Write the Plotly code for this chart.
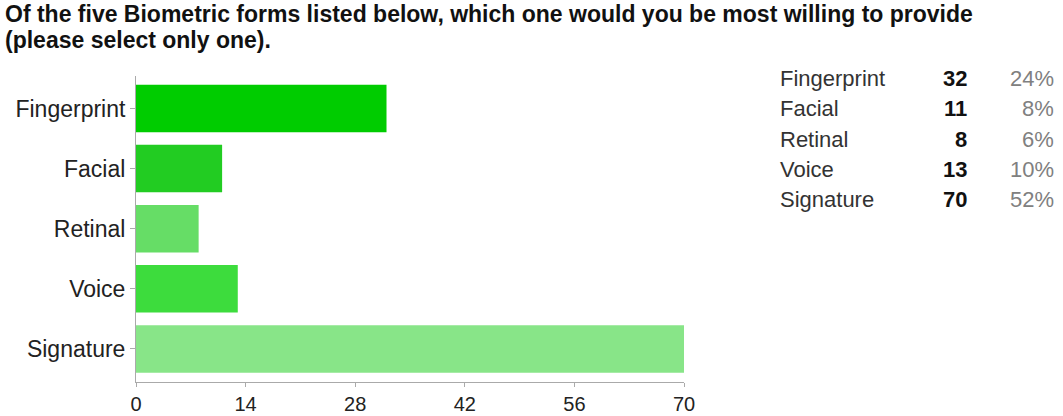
import plotly.graph_objects as go

categories = ["Fingerprint", "Facial", "Retinal", "Voice", "Signature"]
counts = [32, 11, 8, 13, 70]
percents = ["24%", "8%", "6%", "10%", "52%"]
x_ticks = [0, 14, 28, 42, 56, 70]
bar_colors = ["#00cc00", "#22cc22", "#66dd66", "#3ddc3d", "#88e588"]

title_lines = ["Of the five Biometric forms listed below, which one would you be most willing to provide",
               "(please select only one)."]

FONT = "Arial, Liberation Sans, sans-serif"
W, H = 1063, 416
# plot area in page pixels
left, right, top, bottom = 136, 684, 76, 382
ml, mr, mt, mb = left, W - right, top, H - bottom
pw = right - left
ph = bottom - top


def px_x(px):
    return (px - left) / pw


def px_y(py):
    return (bottom - py) / ph


fig = go.Figure()
fig.add_trace(go.Bar(
    y=list(range(len(categories))), x=counts, orientation="h",
    marker=dict(color=bar_colors, line=dict(width=0)),
    showlegend=False, hovertext=categories, hoverinfo="x+text",
))

ann = []
row_y = [78, 109, 139, 169, 199]
for i, c in enumerate(categories):
    yy = px_y(row_y[i])
    ann.append(dict(x=px_x(778), y=yy, xref="paper", yref="paper", text=c,
                    showarrow=False, xanchor="left", yanchor="middle",
                    font=dict(family=FONT, size=22, color="#333333")))
    ann.append(dict(x=px_x(969), y=yy, xref="paper", yref="paper", text="<b>%d</b>" % counts[i],
                    showarrow=False, xanchor="right", yanchor="middle",
                    font=dict(family=FONT, size=22, color="#111111")))
    ann.append(dict(x=px_x(1056), y=yy, xref="paper", yref="paper", text=percents[i],
                    showarrow=False, xanchor="right", yanchor="middle",
                    font=dict(family=FONT, size=22, color="#808080")))

for j, (line, cy) in enumerate(zip(title_lines, [14, 40])):
    ann.append(dict(x=px_x(3), y=px_y(cy), xref="paper", yref="paper", text="<b>" + line + "</b>",
                    showarrow=False, xanchor="left", yanchor="middle", align="left",
                    font=dict(family=FONT, size=23, color="#111111")))

fig.update_layout(
    width=W, height=H,
    margin=dict(l=ml, r=mr, t=mt, b=mb, pad=0),
    paper_bgcolor="white", plot_bgcolor="white",
    bargap=0.21,
    annotations=ann,
    xaxis=dict(range=[0, 70], tickvals=x_ticks, ticktext=[str(v) for v in x_ticks],
               showgrid=False, zeroline=False, showline=True, linecolor="#aaaaaa", linewidth=1,
               ticks="outside", ticklen=4, tickcolor="#aaaaaa", automargin=False,
               tickfont=dict(family=FONT, size=20, color="#222222")),
    yaxis=dict(range=[4.55, -0.54], tickvals=list(range(len(categories))), ticktext=categories,
               showgrid=False, zeroline=False,
               showline=True, linecolor="#aaaaaa", linewidth=1,
               ticks="outside", ticklen=5, tickcolor="#aaaaaa", automargin=False,
               tickfont=dict(family=FONT, size=23, color="#222222")),
)

fig.write_html("out.html", config={"displayModeBar": False},
               post_script="document.body.style.margin='0';")
